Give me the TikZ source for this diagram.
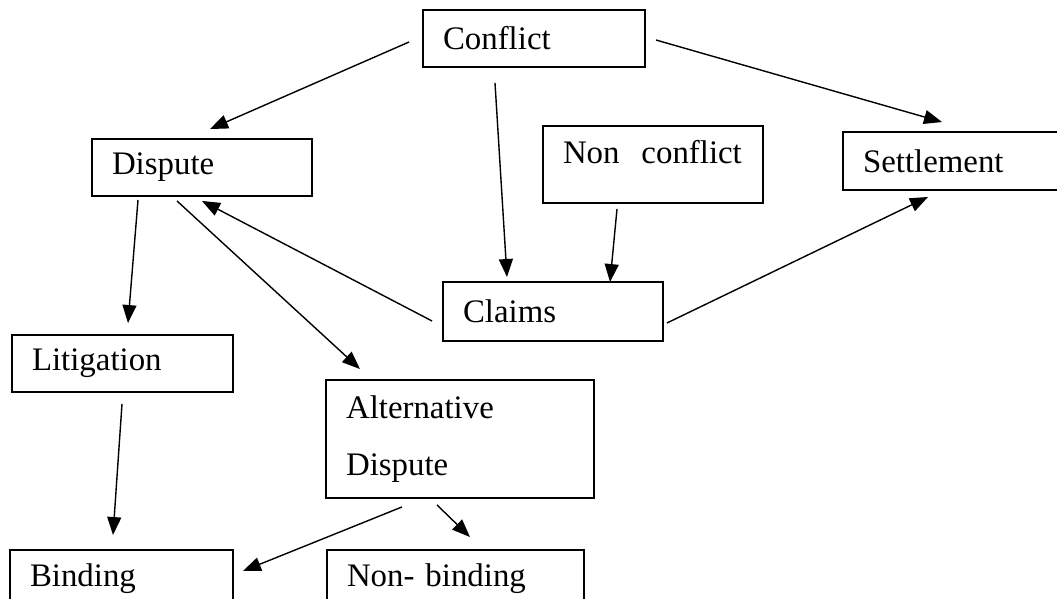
\documentclass[tikz,border=0pt]{standalone}
\usepackage{fontspec}
\setmainfont{Liberation Serif}
\usetikzlibrary{arrows.meta,calc}

\tikzset{
    box/.style={draw, line width=1.1pt, rectangle, inner xsep=0.4cm, inner ysep=0pt,
        align=left, font=\fontsize{18.7pt}{22pt}\selectfont},
    arr/.style={-{Triangle[length=0.36cm,width=0.28cm]}, line width=0.8pt}
}

\begin{document}
\begin{tikzpicture}[x=0.02cm, y=-0.02cm]
    \clip (0,0) rectangle (1057,598);
    \useasboundingbox (0,0) rectangle (1057,598);

    % Draw the boxes
    \node[box, text width=3.64cm, minimum height=1.14cm] (conflict) at (534,38.5) {Conflict};
    \node[box, text width=3.6cm, minimum height=1.14cm] (dispute) at (202,167.5) {Dispute};
    \node[box, text width=3.6cm, minimum height=1.54cm, text depth=0.5cm] (nonconflict) at (653,164.5) {Non~~conflict};
    \node[box, text width=3.64cm, minimum height=1.16cm] (settlement) at (954,161) {Settlement};
    \node[box, text width=3.6cm, minimum height=1.18cm] (claims) at (553,311.5) {Claims};
    \node[box, text width=3.62cm, minimum height=1.14cm] (litigation) at (122.5,363.5) {Litigation};
    \node[box, text width=4.56cm, minimum height=2.36cm] (alternative) at (460,439) {Alternative\\[10pt]Dispute};
    \node[box, text width=3.66cm, minimum height=1.14cm] (binding) at (121.5,578.5) {Binding};
    \node[box, text width=4.34cm, minimum height=1.14cm] (nonbinding) at (455.5,578.5) {Non- binding};

    % Draw the arrows
    \draw[arr] ($(conflict.west)+(-13,3.5)$) -- ($(dispute.north)+(8,-9)$);
    \draw[arr] ($(conflict.east)+(10,1.5)$) -- ($(settlement.north)+(-12,-9)$);
    \draw[arr] ($(conflict.south)+(-39,15)$) -- ($(claims.north)+(-46,-4)$);
    \draw[arr] ($(nonconflict.south)+(-36,5)$) -- ($(claims.north)+(57,1)$);
    \draw[arr] ($(claims.west)+(-10,9.5)$) -- ($(dispute.south)+(0,4)$);
    \draw[arr] ($(claims.east)+(3,11.5)$) -- ($(settlement.south)+(-26,6)$);
    \draw[arr] ($(dispute.south)+(-64,3)$) -- ($(litigation.north)+(5.5,-11)$);
    \draw[arr] ($(dispute.south)+(-25,4)$) -- ($(alternative.north)+(-100,-10)$);
    \draw[arr] ($(litigation.south)+(-0.5,11)$) -- ($(binding.north)+(-8.5,-14)$);
    \draw[arr] ($(alternative.south)+(-58,8)$) -- ($(binding.east)+(9,-7.5)$);
    \draw[arr] ($(alternative.south)+(-23,6)$) -- ($(nonbinding.north)+(14.5,-12)$);
\end{tikzpicture}
\end{document}
